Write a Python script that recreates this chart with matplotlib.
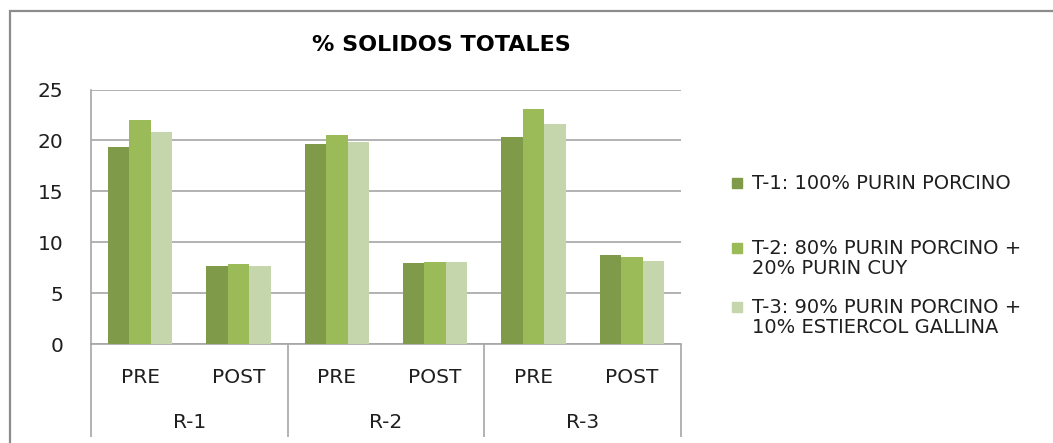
import matplotlib.pyplot as plt
from matplotlib.lines import Line2D
from matplotlib.patches import Rectangle
import numpy as np

plt.rcParams["font.family"] = ["DejaVu Sans"]

# data
reactors = ["R-1", "R-2", "R-3"]
stages = ["PRE", "POST"]
series_labels = [
    "T-1: 100% PURIN PORCINO",
    "T-2: 80% PURIN PORCINO +\n20% PURIN CUY",
    "T-3: 90% PURIN PORCINO +\n10% ESTIERCOL GALLINA",
]
t1_values = [19.4, 7.7, 19.6, 8.0, 20.3, 8.7]
t2_values = [22.0, 7.9, 20.5, 8.1, 23.1, 8.5]
t3_values = [20.8, 7.7, 19.8, 8.1, 21.6, 8.2]
y_ticks = [0, 5, 10, 15, 20, 25]

colors = ["#7f9a48", "#9bbb59", "#c6d6ac"]
grid_color = "#a6a6a6"
text_color = "#1f1f1f"

W, H = 1053, 443
fig = plt.figure(figsize=(W / 100, H / 100), dpi=100)
ax = fig.add_axes([91 / W, 1 - 344 / H, 590 / W, (344 - 89.5) / H])

x = np.arange(len(reactors) * len(stages))
width = 0.217
for i, vals in enumerate([t1_values, t2_values, t3_values]):
    ax.bar(x + (i - 1) * width, vals, width, color=colors[i], zorder=3)

ax.set_xlim(-0.5, len(x) - 0.5)
ax.set_ylim(0, 25)
ax.set_yticks(y_ticks)
ax.set_yticklabels([str(t) for t in y_ticks], fontsize=14.5, color=text_color)
ax.yaxis.grid(True, color=grid_color, linewidth=1.2, zorder=0)
ax.tick_params(axis="y", length=0, pad=20)

ax.set_xticks(x)
ax.set_xticklabels(stages * len(reactors), fontsize=14.5, color=text_color)
ax.tick_params(axis="x", length=0, pad=17)

for side in ["top", "right"]:
    ax.spines[side].set_visible(False)
for side in ["left", "bottom"]:
    ax.spines[side].set_color(grid_color)
    ax.spines[side].set_linewidth(1.2)

# category separators and reactor labels below the axis
trans = ax.get_xaxis_transform()
for k in range(len(reactors) + 1):
    xs = -0.5 + k * len(stages)
    ax.plot([xs, xs], [0, -0.365], transform=trans, color=grid_color,
            linewidth=1.2, clip_on=False, solid_capstyle="butt")
for k, name in enumerate(reactors):
    ax.text(k * len(stages) + 0.5, -0.31, name, transform=trans, ha="center",
            va="center", fontsize=14.5, color=text_color)

fig.text(441.5 / W, 1 - 45 / H, "% SOLIDOS TOTALES", ha="center", va="center",
         fontsize=16, fontweight="bold", color="black")

# legend, marker aligned with the first line of each entry
legend_y = [183, 248, 307]
for i, label in enumerate(series_labels):
    y = legend_y[i]
    fig.add_artist(Rectangle((732 / W, 1 - (y + 5) / H), 10 / W, 10 / H,
                             transform=fig.transFigure, color=colors[i]))
    fig.text(752 / W, 1 - (y - 9) / H, label, ha="left", va="top",
             fontsize=14, color=text_color, linespacing=1.05)

# outer chart border (cropped on the right and bottom)
fig.add_artist(Line2D([10 / W, 10 / W, 1.02], [-0.02, 1 - 11 / H, 1 - 11 / H],
                      transform=fig.transFigure, color="#8c8c8c", linewidth=1.6,
                      solid_capstyle="butt", solid_joinstyle="miter"))

fig.savefig("out.png", dpi=100)
